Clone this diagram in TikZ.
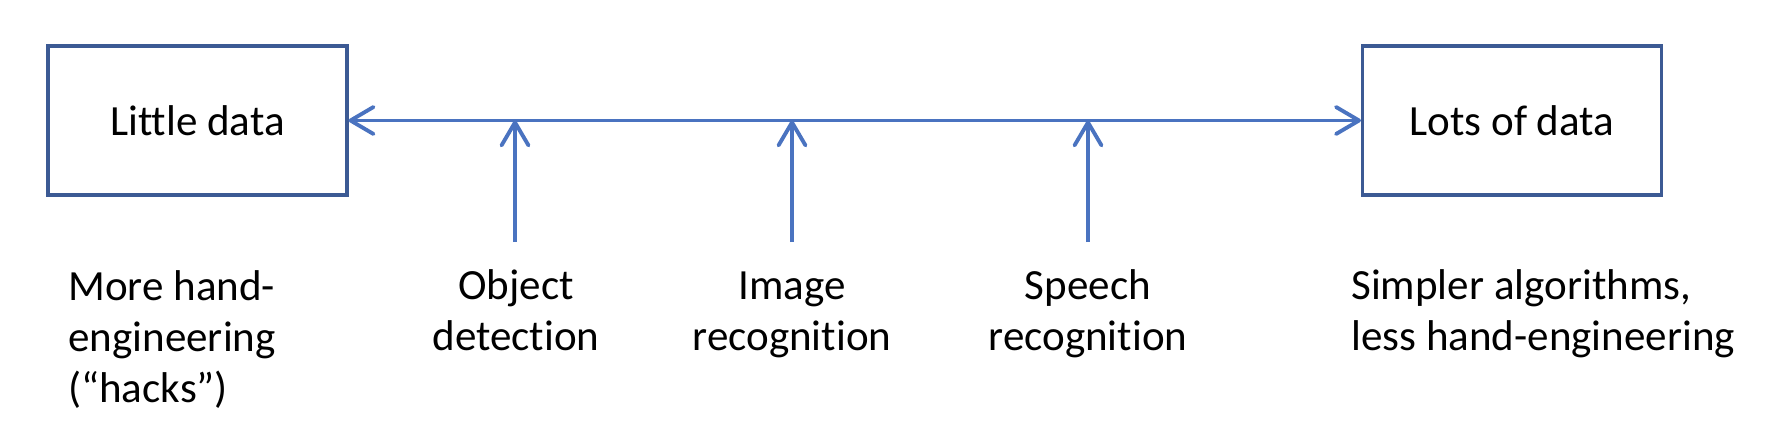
\documentclass[tikz,border=0pt]{standalone}
\usepackage{fontspec}
\setmainfont{Carlito}[Ligatures={NoCommon}]
\usetikzlibrary{arrows.meta,positioning}
\definecolor{boxblue}{HTML}{3C5A94}
\definecolor{lineblue}{HTML}{4A73C0}
\tikzset{
  %% Data boxes at both ends
  databox/.style={
    rectangle, draw=boxblue, line width=1.8pt,
    minimum width=5.98cm, minimum height=2.98cm,
    inner sep=0pt, font=\fontsize{24.5}{29}\selectfont},
  %% Labels under the scale
  lbl/.style={
    inner sep=0pt, align=center,
    font=\fontsize{24.5}{29}\selectfont},
  sidelbl/.style={lbl, align=left},
  %% Arrows
  barb/.tip={Straight Barb[length=0.46cm, width=0.54cm, round]},
  arrow/.style={-{barb}, line width=2.2pt, lineblue},
  darrow/.style={{barb}-{barb}, line width=2.2pt, lineblue},
}
\begin{document}
\begin{tikzpicture}[x=0.02cm, y=-0.02cm]
  \useasboundingbox (0,0) rectangle (1780,446);

  %% Boxes
  \node[databox] (little) at (197.5,120.5) {Little data};
  \node[databox] (lots)   at (1512,120.5)  {Lots of data};

  %% Main scale
  \draw[darrow] (little.east) -- (lots.west);

  %% Labels (anchored at the last line)
  \node[sidelbl, anchor=base west] (hand)  at (68,402)   {More hand-\\ engineering\\ (“hacks”)};
  \node[lbl, anchor=base]          (obj)   at (516,350)  {Object\\ detection};
  \node[lbl, anchor=base]          (img)   at (792,350)  {Image\\ recognition};
  \node[lbl, anchor=base]          (sp)    at (1088,350) {Speech\\ recognition};
  \node[sidelbl, anchor=base west] (simp)  at (1351,350) {Simpler algorithms,\\ less hand-engineering};

  %% Feet of the vertical arrows
  \coordinate (obj foot) at (515,242);
  \coordinate (img foot) at (792,242);
  \coordinate (sp foot)  at (1088,242);

  \draw[arrow] (obj foot) -- (obj foot |- little.east);
  \draw[arrow] (img foot) -- (img foot |- little.east);
  \draw[arrow] (sp foot)  -- (sp foot |- little.east);

\end{tikzpicture}
\end{document}
